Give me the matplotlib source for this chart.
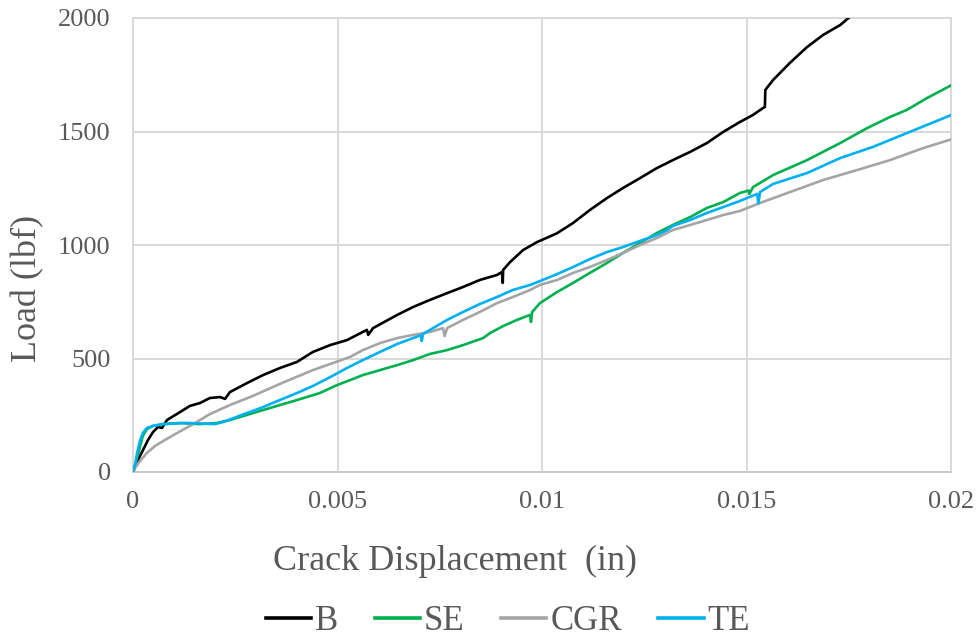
import matplotlib
matplotlib.use("Agg")
import matplotlib.pyplot as plt

# ---- data ----
b_x = [0, 0.000122, 0.000245, 0.000367, 0.000489, 0.000611, 0.000709, 0.000831, 0.00115, 0.00139,
       0.00164, 0.00188, 0.00213, 0.00225, 0.00237, 0.00279, 0.00318, 0.00359, 0.00401, 0.0044,
       0.00482, 0.00523, 0.00562, 0.00572, 0.00575, 0.00587, 0.00646, 0.00685, 0.00726, 0.00768,
       0.00807, 0.00848, 0.0089, 0.00902, 0.00904, 0.00905, 0.00922, 0.00954, 0.00988, 0.01036,
       0.01076, 0.01117, 0.01159, 0.01198, 0.0124, 0.01281, 0.0132, 0.01362, 0.01403, 0.01443,
       0.01484, 0.01516, 0.0154, 0.01545, 0.01546, 0.01565, 0.01606, 0.01648, 0.01687, 0.01729,
       0.01758, 0.0178]
b_y = [0, 53, 97, 141, 176, 198, 194, 229, 264, 291,
       304, 326, 330, 322, 352, 392, 427, 458, 485, 529,
       559, 581, 617, 626, 604, 634, 692, 727, 758, 788,
       815, 846, 868, 881, 833, 890, 925, 978, 1013, 1051,
       1097, 1154, 1207, 1251, 1295, 1339, 1374, 1410, 1449, 1498,
       1542, 1573, 1603, 1608, 1683, 1727, 1802, 1872, 1925, 1969,
       2013, 2040]

se_x = [0, 0.00007, 0.00017, 0.00024, 0.00034, 0.00049, 0.00073, 0.00115, 0.00164, 0.00205,
        0.00237, 0.00318, 0.00401, 0.00457, 0.00499, 0.00531, 0.00562, 0.00604, 0.00646, 0.00685,
        0.00726, 0.00768, 0.00807, 0.00856, 0.00873, 0.00905, 0.00939, 0.00971, 0.00973, 0.00976,
        0.00995, 0.01037, 0.01076, 0.01117, 0.01159, 0.01198, 0.0124, 0.01281, 0.0132, 0.01362,
        0.01403, 0.01443, 0.01484, 0.01505, 0.01507, 0.01516, 0.01565, 0.01648, 0.01729, 0.01795,
        0.01851, 0.01892, 0.01941, 0.02]
se_y = [0, 44, 110, 159, 189, 203, 211, 216, 211, 216,
        229, 273, 317, 348, 383, 405, 427, 449, 471, 493,
        520, 537, 559, 590, 612, 643, 670, 692, 661, 705,
        744, 793, 833, 877, 921, 965, 1009, 1053, 1088, 1123,
        1163, 1189, 1229, 1240, 1225, 1255, 1308, 1374, 1449, 1515,
        1564, 1595, 1647, 1703]

cgr_x = [0, 0.00005, 0.00017, 0.00034, 0.00054, 0.00078, 0.00108, 0.00147, 0.00188, 0.00237,
         0.00293, 0.00359, 0.0044, 0.00531, 0.00562, 0.00604, 0.00646, 0.00685, 0.00726, 0.00758,
         0.00762, 0.00768, 0.00807, 0.00848, 0.0089, 0.00929, 0.00971, 0.00995, 0.01037, 0.01076,
         0.01117, 0.01159, 0.01198, 0.0124, 0.01281, 0.0132, 0.01362, 0.01403, 0.01443, 0.01484,
         0.01533, 0.01606, 0.01687, 0.0177, 0.01851, 0.01932, 0.02]
cgr_y = [0, 18, 48, 84, 115, 141, 172, 211, 255, 295,
         335, 388, 449, 507, 537, 568, 590, 604, 617, 634,
         599, 634, 670, 705, 744, 771, 802, 824, 846, 877,
         903, 934, 965, 1000, 1031, 1066, 1088, 1110, 1132, 1150,
         1185, 1233, 1286, 1330, 1374, 1427, 1465]

te_x = [0, 0.00005, 0.0001, 0.00017, 0.00024, 0.00034, 0.00049, 0.00073, 0.00132, 0.002,
        0.0022, 0.00279, 0.00318, 0.00359, 0.00401, 0.0044, 0.00482, 0.00523, 0.00562, 0.00604,
        0.00646, 0.00685, 0.00704, 0.00706, 0.00709, 0.00726, 0.00768, 0.00807, 0.00848, 0.0089,
        0.00929, 0.00971, 0.00995, 0.01037, 0.01076, 0.01117, 0.01159, 0.01198, 0.0124, 0.01281,
        0.01306, 0.0132, 0.01362, 0.01403, 0.01443, 0.01484, 0.01526, 0.01529, 0.01533, 0.01565,
        0.01648, 0.01729, 0.01809, 0.01892, 0.02]
te_y = [0, 31, 84, 137, 172, 194, 203, 211, 216, 211,
        220, 260, 286, 317, 348, 379, 418, 458, 493, 529,
        564, 590, 603, 577, 608, 626, 670, 705, 740, 771,
        802, 824, 841, 872, 903, 938, 969, 991, 1018, 1044,
        1066, 1084, 1110, 1141, 1167, 1194, 1225, 1183, 1233, 1269,
        1317, 1383, 1432, 1493, 1572]

series = [("B", b_x, b_y, "#000000"),
          ("SE", se_x, se_y, "#00B050"),
          ("CGR", cgr_x, cgr_y, "#A5A5A5"),
          ("TE", te_x, te_y, "#00B0F0")]

x_ticks = [0, 0.005, 0.01, 0.015, 0.02]
x_tick_labels = ["0", "0.005", "0.01", "0.015", "0.02"]
y_ticks = [0, 500, 1000, 1500, 2000]
y_tick_labels = ["0", "500", "1000", "1500", "2000"]

# ---- style ----
plt.rcParams["font.family"] = ["Liberation Serif", "DejaVu Serif"]
TXT = "#595959"
GRID = "#d9d9d9"

W, H = 979, 640
fig = plt.figure(figsize=(W / 100, H / 100), dpi=100)
ax = fig.add_axes([133 / W, (H - 472) / H, 818 / W, 454 / H])

for name, xs, ys, col in series:
    ax.plot(xs, ys, color=col, lw=1.9, label=name, solid_joinstyle="round", zorder=3)

ax.set_xlim(0, 0.02)
ax.set_ylim(0, 2000)
ax.set_xticks(x_ticks)
ax.set_xticklabels(x_tick_labels)
ax.set_yticks(y_ticks)
ax.set_yticklabels(y_tick_labels)
ax.grid(True, color=GRID, lw=1.4, zorder=0)
ax.set_axisbelow(True)
for s in ax.spines.values():
    s.set_color(GRID)
    s.set_linewidth(1.4)
ax.spines["bottom"].set_color("#c8c8c8")
ax.tick_params(axis="both", length=0, labelsize=19, labelcolor=TXT)
ax.tick_params(axis="x", pad=14)
ax.tick_params(axis="y", pad=16)

fig.text(28 / W, 1 - 288 / H, "Load (lbf)", rotation=90, ha="center", va="center",
         fontsize=26, color=TXT)
fig.text(455 / W, 1 - 561 / H, "Crack Displacement  (in)", ha="center", va="center",
         fontsize=26, color=TXT)

leg = fig.legend(loc="center", bbox_to_anchor=(508 / W, 1 - 622 / H), ncol=4, frameon=False,
                 fontsize=25, handlelength=1.3, handletextpad=0.12, columnspacing=1.05,
                 borderaxespad=0, borderpad=0)
for t in leg.get_texts():
    t.set_color(TXT)
for l in leg.get_lines():
    l.set_linewidth(2.6)

fig.savefig("out.png", dpi=100)
